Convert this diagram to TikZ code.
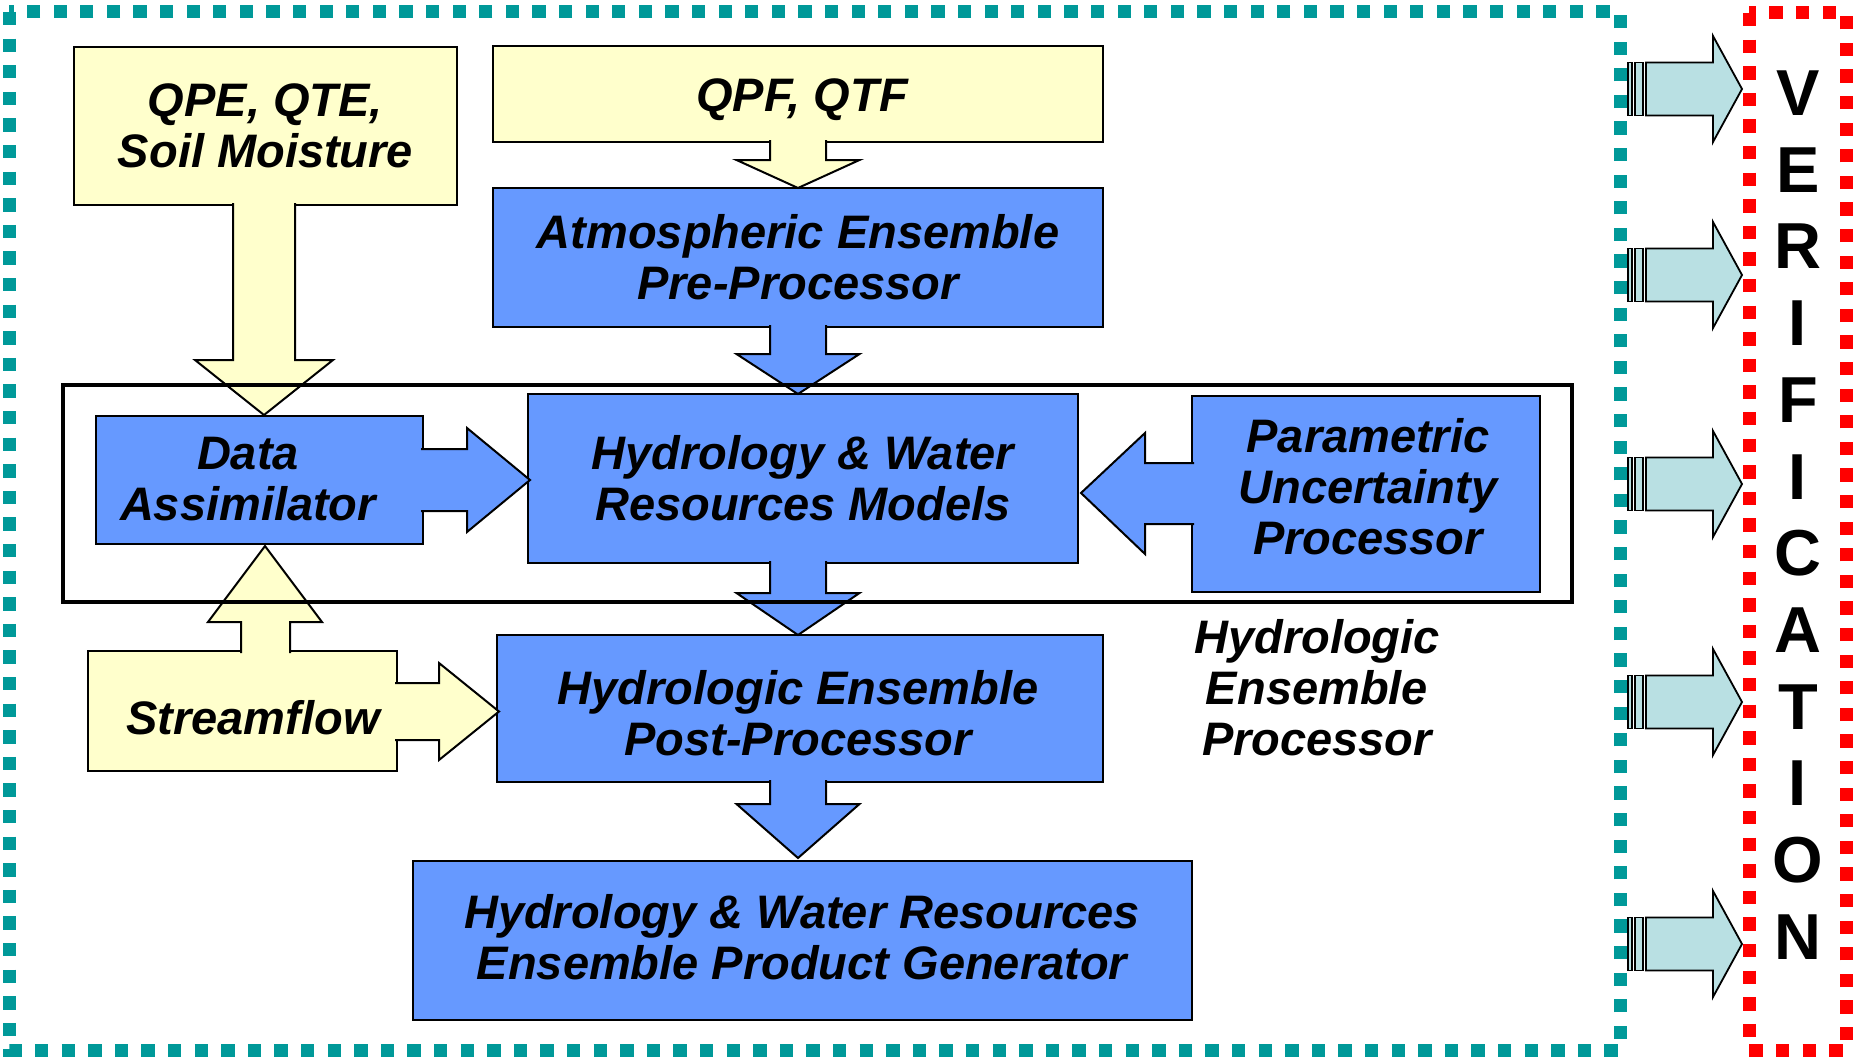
\documentclass[tikz,border=0pt]{standalone}
\usepackage{fontspec}
\setmainfont{Liberation Sans}
\usetikzlibrary{calc}
\definecolor{boxyellow}{HTML}{FFFFCC}
\definecolor{boxblue}{HTML}{6699FF}
\definecolor{arrcyan}{HTML}{B9E0E3}
\definecolor{frameteal}{HTML}{009999}
\definecolor{framered}{HTML}{FF0000}
\begin{document}
\begin{tikzpicture}[x=1pt,y=-1pt,
  box/.style={draw=black, line width=2pt, inner sep=0pt, align=center,
    font=\fontsize{47pt}{51pt}\selectfont\bfseries\itshape},
  ybox/.style={box, fill=boxyellow},
  bbox/.style={box, fill=boxblue},
  yarr/.style={fill=boxyellow, draw=black, line width=2pt, line join=miter},
  barr/.style={fill=boxblue, draw=black, line width=2pt, line join=miter},
  carr/.style={fill=arrcyan, draw=black, line width=1.8pt, line join=miter},
  dotframe/.style={line width=13pt, dash pattern=on 13.3pt off 13.3pt},
  lbl/.style={align=center, inner sep=0pt, font=\fontsize{47pt}{51pt}\selectfont\bfseries\itshape}
]
\useasboundingbox (0,0) rectangle (1860,1057);

% boxes
\node[ybox, minimum width=383pt, minimum height=158pt] (qpe) at (265.5,126) {QPE, QTE,\\Soil Moisture};
\node[ybox, minimum width=610pt, minimum height=96pt] (qpf) at (798,94) {};
\node[lbl] (qpftext) at (802,100) {QPF, QTF};
\node[bbox, minimum width=610pt, minimum height=139pt] (atm) at (798,257.5) {Atmospheric Ensemble\\Pre-Processor};
\node[bbox, minimum width=550pt, minimum height=169pt] (hyd) at (803,478.5) {Hydrology \& Water\\Resources Models};
\node[bbox, minimum width=327pt, minimum height=128pt] (da) at (259.5,480) {};
\node[lbl] (datext) at (248,479) {Data\\Assimilator};
\node[bbox, minimum width=348pt, minimum height=196pt] (par) at (1366,494) {};
\node[lbl] (partext) at (1368,487) {Parametric\\Uncertainty\\Processor};
\node[ybox, minimum width=309pt, minimum height=120pt] (stf) at (242.5,711) {};
\node[lbl] (stftext) at (253,718) {Streamflow};
\node[bbox, minimum width=606pt, minimum height=147pt] (post) at (800,708.5) {};
\node[lbl] (posttext) at (798,713) {Hydrologic Ensemble\\Post-Processor};
\node[bbox, minimum width=779pt, minimum height=159pt] (prod) at (802.5,940.5) {};
\node[lbl] (prodtext) at (802,937) {Hydrology \& Water Resources\\Ensemble Product Generator};
\node[lbl] (hep) at (1317,688) {Hydrologic\\Ensemble\\Processor};

% block arrows between boxes
\filldraw[yarr] (233,203) -- (233,360) -- (195,360) -- (264,415) -- (333,360) -- (295,360) -- (295,203);
\filldraw[yarr] (770,140) -- (770,160) -- (736.5,160) -- (798,188) -- (859.5,160) -- (826,160) -- (826,140);
\filldraw[barr] (770,325) -- (770,354) -- (736.5,354) -- (798,394) -- (859.5,354) -- (826,354) -- (826,325);
\filldraw[barr] (770,561) -- (770,593) -- (736.5,593) -- (798,635) -- (859.5,593) -- (826,593) -- (826,561);
\filldraw[barr] (770,780) -- (770,804) -- (736.5,804) -- (798,858) -- (859.5,804) -- (826,804) -- (826,780);
\filldraw[barr] (421,449) -- (467,449) -- (467,428) -- (530,480) -- (467,532) -- (467,511) -- (421,511);
\filldraw[barr] (1194,463) -- (1145,463) -- (1145,433) -- (1081,493) -- (1145,554) -- (1145,524) -- (1194,524);
\filldraw[yarr] (395,683) -- (439,683) -- (439,663) -- (499,711.5) -- (439,760) -- (439,740) -- (395,740);
\filldraw[yarr] (241,653) -- (241,622) -- (208,622) -- (265,546) -- (322,622) -- (290,622) -- (290,653);

% hydrologic ensemble processor frame
\draw[line width=4pt] (63,385) rectangle (1572,602);

% outer frames
\draw[dotframe, draw=frameteal] (9,12) rectangle (1620,1050);
\draw[dotframe, draw=framered] (1749,13) rectangle (1846,1050);

% verification arrows
\foreach \yc in {89,275,484,702,944}{
  \draw[carr] (1628,\yc-26.5) rectangle (1632,\yc+26.5);
  \draw[carr] (1635,\yc-26.5) rectangle (1643,\yc+26.5);
  \draw[carr] (1646,\yc-26.5) -- (1713,\yc-26.5) -- (1713,\yc-53) -- (1742,\yc) -- (1713,\yc+53) -- (1713,\yc+26.5) -- (1646,\yc+26.5) -- cycle;
}
\node[align=center, inner sep=0pt, font=\fontsize{65pt}{76.7pt}\selectfont\bfseries] (verif) at (1798,515) {V\\E\\R\\I\\F\\I\\C\\A\\T\\I\\O\\N};
\end{tikzpicture}
\end{document}
